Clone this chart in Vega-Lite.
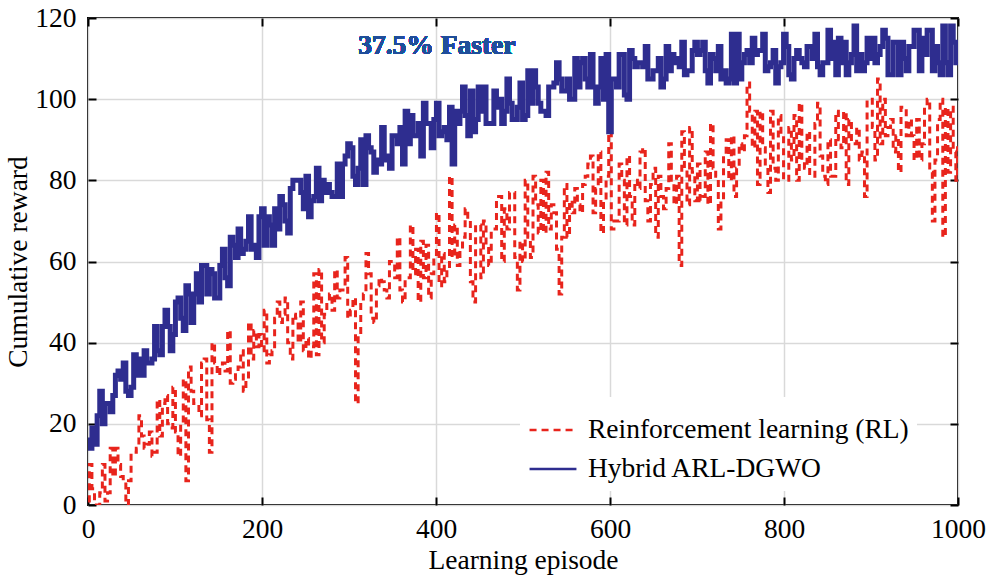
{
  "$schema": "https://vega.github.io/schema/vega-lite/v6.json",
  "width": 870,
  "height": 487,
  "autosize": {"type": "none"},
  "padding": {"left": 88, "top": 18, "right": 35, "bottom": 77},
  "background": "white",
  "config": {
    "view": {"stroke": "black", "strokeWidth": 2},
    "font": "Liberation Serif",
    "axis": {
      "labelFont": "Liberation Serif",
      "titleFont": "Liberation Serif",
      "labelFontSize": 27.5,
      "titleFontSize": 27.5,
      "titleFontWeight": "normal",
      "labelColor": "black",
      "titleColor": "black",
      "domain": false,
      "tickColor": "black",
      "tickWidth": 2,
      "tickSize": -8,
      "gridColor": "#d9d9d9",
      "gridWidth": 1.5,
      "labelFlush": false,
      "format": "d"
    },
    "legend": {
      "orient": "none",
      "legendX": 432,
      "legendY": 379,
      "fillColor": "white",
      "padding": 8,
      "symbolType": "stroke",
      "symbolSize": 2200,
      "symbolStrokeWidth": 2.5,
      "labelFont": "Liberation Serif",
      "labelFontSize": 27.5,
      "labelColor": "black",
      "labelOffset": 10,
      "rowPadding": -15,
      "labelLimit": 0
    }
  },
  "data": {
    "values": [
      {"e": 0, "rl": 1, "h": 16}, {"e": 3, "rl": 10, "h": 14}, {"e": 6, "rl": 4, "h": 19}, {"e": 9, "rl": 0, "h": 15},
      {"e": 12, "rl": 0, "h": 22}, {"e": 15, "rl": 3, "h": 28}, {"e": 18, "rl": 10, "h": 20}, {"e": 21, "rl": 1, "h": 25},
      {"e": 24, "rl": 3, "h": 25}, {"e": 27, "rl": 14, "h": 23},
      {"e": 30, "rl": 7, "h": 27}, {"e": 33, "rl": 14, "h": 32}, {"e": 36, "rl": 10, "h": 33}, {"e": 39, "rl": 7, "h": 31},
      {"e": 42, "rl": 6, "h": 35}, {"e": 45, "rl": 0, "h": 28}, {"e": 48, "rl": 6, "h": 27}, {"e": 51, "rl": 13, "h": 29},
      {"e": 54, "rl": 13, "h": 37}, {"e": 57, "rl": 14, "h": 32},
      {"e": 60, "rl": 22, "h": 36}, {"e": 63, "rl": 17, "h": 32}, {"e": 66, "rl": 14, "h": 38}, {"e": 69, "rl": 15, "h": 35},
      {"e": 72, "rl": 18, "h": 35}, {"e": 75, "rl": 12, "h": 36}, {"e": 78, "rl": 13, "h": 44}, {"e": 81, "rl": 26, "h": 38},
      {"e": 84, "rl": 17, "h": 37}, {"e": 87, "rl": 25, "h": 44},
      {"e": 90, "rl": 27, "h": 48}, {"e": 93, "rl": 20, "h": 44}, {"e": 96, "rl": 19, "h": 38}, {"e": 99, "rl": 29, "h": 42},
      {"e": 102, "rl": 18, "h": 50}, {"e": 105, "rl": 12, "h": 51}, {"e": 108, "rl": 20, "h": 46}, {"e": 111, "rl": 31, "h": 43},
      {"e": 114, "rl": 6, "h": 54}, {"e": 117, "rl": 34, "h": 52},
      {"e": 120, "rl": 28, "h": 45}, {"e": 123, "rl": 25, "h": 52}, {"e": 126, "rl": 25, "h": 57}, {"e": 129, "rl": 22, "h": 50},
      {"e": 132, "rl": 35, "h": 59}, {"e": 135, "rl": 36, "h": 59}, {"e": 138, "rl": 21, "h": 52}, {"e": 141, "rl": 13, "h": 58},
      {"e": 144, "rl": 40, "h": 57}, {"e": 147, "rl": 35, "h": 51},
      {"e": 150, "rl": 32, "h": 51}, {"e": 153, "rl": 34, "h": 59}, {"e": 156, "rl": 35, "h": 63}, {"e": 159, "rl": 33, "h": 56},
      {"e": 162, "rl": 43, "h": 54}, {"e": 165, "rl": 30, "h": 66}, {"e": 168, "rl": 31, "h": 64}, {"e": 171, "rl": 33, "h": 61},
      {"e": 174, "rl": 34, "h": 68}, {"e": 177, "rl": 38, "h": 62},
      {"e": 180, "rl": 28, "h": 63}, {"e": 183, "rl": 31, "h": 65}, {"e": 186, "rl": 45, "h": 71}, {"e": 189, "rl": 36, "h": 63},
      {"e": 192, "rl": 43, "h": 64}, {"e": 195, "rl": 39, "h": 61}, {"e": 198, "rl": 42, "h": 71}, {"e": 201, "rl": 38, "h": 73},
      {"e": 204, "rl": 48, "h": 64}, {"e": 207, "rl": 35, "h": 71},
      {"e": 210, "rl": 37, "h": 69}, {"e": 213, "rl": 38, "h": 64}, {"e": 216, "rl": 46, "h": 73}, {"e": 219, "rl": 50, "h": 68},
      {"e": 222, "rl": 45, "h": 76}, {"e": 225, "rl": 47, "h": 74}, {"e": 228, "rl": 51, "h": 70}, {"e": 231, "rl": 40, "h": 67},
      {"e": 234, "rl": 36, "h": 78}, {"e": 237, "rl": 47, "h": 80},
      {"e": 240, "rl": 46, "h": 80}, {"e": 243, "rl": 40, "h": 80}, {"e": 246, "rl": 50, "h": 77}, {"e": 249, "rl": 38, "h": 73},
      {"e": 252, "rl": 41, "h": 81}, {"e": 255, "rl": 36, "h": 71}, {"e": 258, "rl": 39, "h": 75}, {"e": 261, "rl": 57, "h": 76},
      {"e": 264, "rl": 37, "h": 83}, {"e": 267, "rl": 58, "h": 75},
      {"e": 270, "rl": 40, "h": 80}, {"e": 273, "rl": 47, "h": 77}, {"e": 276, "rl": 50, "h": 79}, {"e": 279, "rl": 52, "h": 77},
      {"e": 282, "rl": 48, "h": 76}, {"e": 285, "rl": 58, "h": 76}, {"e": 288, "rl": 51, "h": 84}, {"e": 291, "rl": 53, "h": 76},
      {"e": 294, "rl": 53, "h": 84}, {"e": 297, "rl": 61, "h": 86},
      {"e": 300, "rl": 46, "h": 89}, {"e": 303, "rl": 48, "h": 88}, {"e": 306, "rl": 51, "h": 81}, {"e": 309, "rl": 25, "h": 79},
      {"e": 312, "rl": 42, "h": 83}, {"e": 315, "rl": 50, "h": 90}, {"e": 318, "rl": 52, "h": 79}, {"e": 321, "rl": 62, "h": 91},
      {"e": 324, "rl": 57, "h": 88}, {"e": 327, "rl": 46, "h": 87},
      {"e": 330, "rl": 45, "h": 82}, {"e": 333, "rl": 54, "h": 85}, {"e": 336, "rl": 56, "h": 84}, {"e": 339, "rl": 55, "h": 93},
      {"e": 342, "rl": 53, "h": 85}, {"e": 345, "rl": 51, "h": 86}, {"e": 348, "rl": 60, "h": 83}, {"e": 351, "rl": 60, "h": 91},
      {"e": 354, "rl": 56, "h": 91}, {"e": 357, "rl": 66, "h": 89},
      {"e": 360, "rl": 53, "h": 93}, {"e": 363, "rl": 50, "h": 84}, {"e": 366, "rl": 56, "h": 97}, {"e": 369, "rl": 56, "h": 89},
      {"e": 372, "rl": 69, "h": 96}, {"e": 375, "rl": 57, "h": 91}, {"e": 378, "rl": 63, "h": 91}, {"e": 381, "rl": 50, "h": 94},
      {"e": 384, "rl": 65, "h": 86}, {"e": 387, "rl": 56, "h": 99},
      {"e": 390, "rl": 64, "h": 94}, {"e": 393, "rl": 51, "h": 94}, {"e": 396, "rl": 57, "h": 88}, {"e": 399, "rl": 61, "h": 95},
      {"e": 402, "rl": 72, "h": 99}, {"e": 405, "rl": 54, "h": 91}, {"e": 408, "rl": 62, "h": 92}, {"e": 411, "rl": 55, "h": 93},
      {"e": 414, "rl": 58, "h": 90}, {"e": 417, "rl": 81, "h": 98},
      {"e": 420, "rl": 61, "h": 84}, {"e": 423, "rl": 69, "h": 97}, {"e": 426, "rl": 59, "h": 94}, {"e": 429, "rl": 63, "h": 97},
      {"e": 432, "rl": 66, "h": 103}, {"e": 435, "rl": 73, "h": 96}, {"e": 438, "rl": 70, "h": 91}, {"e": 441, "rl": 55, "h": 102},
      {"e": 444, "rl": 50, "h": 92}, {"e": 447, "rl": 69, "h": 95},
      {"e": 450, "rl": 69, "h": 103}, {"e": 453, "rl": 56, "h": 97}, {"e": 456, "rl": 70, "h": 103}, {"e": 459, "rl": 64, "h": 94},
      {"e": 462, "rl": 59, "h": 94}, {"e": 465, "rl": 68, "h": 94}, {"e": 468, "rl": 68, "h": 102}, {"e": 471, "rl": 76, "h": 98},
      {"e": 474, "rl": 76, "h": 100}, {"e": 477, "rl": 60, "h": 94},
      {"e": 480, "rl": 73, "h": 97}, {"e": 483, "rl": 68, "h": 105}, {"e": 486, "rl": 77, "h": 99}, {"e": 489, "rl": 77, "h": 95},
      {"e": 492, "rl": 61, "h": 95}, {"e": 495, "rl": 53, "h": 98}, {"e": 498, "rl": 65, "h": 104}, {"e": 501, "rl": 60, "h": 95},
      {"e": 504, "rl": 80, "h": 96}, {"e": 507, "rl": 66, "h": 107},
      {"e": 510, "rl": 61, "h": 99}, {"e": 513, "rl": 81, "h": 107}, {"e": 516, "rl": 74, "h": 103}, {"e": 519, "rl": 67, "h": 99},
      {"e": 522, "rl": 80, "h": 97}, {"e": 525, "rl": 67, "h": 97}, {"e": 528, "rl": 82, "h": 96}, {"e": 531, "rl": 68, "h": 103},
      {"e": 534, "rl": 74, "h": 103}, {"e": 537, "rl": 72, "h": 104},
      {"e": 540, "rl": 63, "h": 109}, {"e": 543, "rl": 52, "h": 105}, {"e": 546, "rl": 66, "h": 102}, {"e": 549, "rl": 79, "h": 102},
      {"e": 552, "rl": 66, "h": 105}, {"e": 555, "rl": 75, "h": 100}, {"e": 558, "rl": 72, "h": 100}, {"e": 561, "rl": 78, "h": 110},
      {"e": 564, "rl": 74, "h": 103}, {"e": 567, "rl": 72, "h": 109},
      {"e": 570, "rl": 79, "h": 110}, {"e": 573, "rl": 81, "h": 105}, {"e": 576, "rl": 84, "h": 103}, {"e": 579, "rl": 86, "h": 111},
      {"e": 582, "rl": 72, "h": 103}, {"e": 585, "rl": 78, "h": 99}, {"e": 588, "rl": 87, "h": 103}, {"e": 591, "rl": 67, "h": 110},
      {"e": 594, "rl": 75, "h": 100}, {"e": 597, "rl": 81, "h": 111},
      {"e": 600, "rl": 95, "h": 92}, {"e": 603, "rl": 68, "h": 105}, {"e": 606, "rl": 70, "h": 105}, {"e": 609, "rl": 70, "h": 103},
      {"e": 612, "rl": 84, "h": 111}, {"e": 615, "rl": 80, "h": 111}, {"e": 618, "rl": 69, "h": 101}, {"e": 621, "rl": 86, "h": 100},
      {"e": 624, "rl": 76, "h": 112}, {"e": 627, "rl": 69, "h": 110},
      {"e": 630, "rl": 80, "h": 108}, {"e": 633, "rl": 78, "h": 109}, {"e": 636, "rl": 87, "h": 109}, {"e": 639, "rl": 88, "h": 108},
      {"e": 642, "rl": 75, "h": 113}, {"e": 645, "rl": 70, "h": 105}, {"e": 648, "rl": 79, "h": 105}, {"e": 651, "rl": 83, "h": 107},
      {"e": 654, "rl": 66, "h": 107}, {"e": 657, "rl": 81, "h": 110},
      {"e": 660, "rl": 76, "h": 103}, {"e": 663, "rl": 73, "h": 105}, {"e": 666, "rl": 78, "h": 113}, {"e": 669, "rl": 89, "h": 107},
      {"e": 672, "rl": 80, "h": 111}, {"e": 675, "rl": 74, "h": 109}, {"e": 678, "rl": 81, "h": 110}, {"e": 681, "rl": 59, "h": 108},
      {"e": 684, "rl": 92, "h": 114}, {"e": 687, "rl": 83, "h": 106},
      {"e": 690, "rl": 74, "h": 107}, {"e": 693, "rl": 93, "h": 107}, {"e": 696, "rl": 82, "h": 112}, {"e": 699, "rl": 75, "h": 114},
      {"e": 702, "rl": 84, "h": 111}, {"e": 705, "rl": 75, "h": 112}, {"e": 708, "rl": 76, "h": 114}, {"e": 711, "rl": 87, "h": 107},
      {"e": 714, "rl": 74, "h": 104}, {"e": 717, "rl": 94, "h": 111},
      {"e": 720, "rl": 83, "h": 110}, {"e": 723, "rl": 81, "h": 107}, {"e": 726, "rl": 68, "h": 113}, {"e": 729, "rl": 75, "h": 105},
      {"e": 732, "rl": 86, "h": 107}, {"e": 735, "rl": 90, "h": 104}, {"e": 738, "rl": 80, "h": 105}, {"e": 741, "rl": 91, "h": 116},
      {"e": 744, "rl": 76, "h": 104}, {"e": 747, "rl": 83, "h": 116},
      {"e": 750, "rl": 89, "h": 105}, {"e": 753, "rl": 87, "h": 109}, {"e": 756, "rl": 91, "h": 111}, {"e": 759, "rl": 104, "h": 112},
      {"e": 762, "rl": 97, "h": 109}, {"e": 765, "rl": 88, "h": 115}, {"e": 768, "rl": 97, "h": 111}, {"e": 771, "rl": 79, "h": 112},
      {"e": 774, "rl": 97, "h": 112}, {"e": 777, "rl": 88, "h": 116},
      {"e": 780, "rl": 84, "h": 107}, {"e": 783, "rl": 77, "h": 108}, {"e": 786, "rl": 97, "h": 109}, {"e": 789, "rl": 83, "h": 112},
      {"e": 792, "rl": 80, "h": 104}, {"e": 795, "rl": 96, "h": 108}, {"e": 798, "rl": 91, "h": 109}, {"e": 801, "rl": 80, "h": 116},
      {"e": 804, "rl": 80, "h": 113}, {"e": 807, "rl": 93, "h": 106},
      {"e": 810, "rl": 85, "h": 105}, {"e": 813, "rl": 96, "h": 110}, {"e": 816, "rl": 80, "h": 112}, {"e": 819, "rl": 99, "h": 110},
      {"e": 822, "rl": 85, "h": 109}, {"e": 825, "rl": 83, "h": 108}, {"e": 828, "rl": 92, "h": 113}, {"e": 831, "rl": 81, "h": 113},
      {"e": 834, "rl": 81, "h": 110}, {"e": 837, "rl": 94, "h": 116},
      {"e": 840, "rl": 99, "h": 108}, {"e": 843, "rl": 86, "h": 106}, {"e": 846, "rl": 81, "h": 109}, {"e": 849, "rl": 79, "h": 109},
      {"e": 852, "rl": 90, "h": 117}, {"e": 855, "rl": 81, "h": 110}, {"e": 858, "rl": 81, "h": 114}, {"e": 861, "rl": 97, "h": 106},
      {"e": 864, "rl": 90, "h": 115}, {"e": 867, "rl": 88, "h": 109},
      {"e": 870, "rl": 97, "h": 114}, {"e": 873, "rl": 79, "h": 106}, {"e": 876, "rl": 95, "h": 109}, {"e": 879, "rl": 89, "h": 111},
      {"e": 882, "rl": 89, "h": 118}, {"e": 885, "rl": 93, "h": 107}, {"e": 888, "rl": 85, "h": 111}, {"e": 891, "rl": 87, "h": 107},
      {"e": 894, "rl": 76, "h": 109}, {"e": 897, "rl": 100, "h": 115},
      {"e": 900, "rl": 100, "h": 110}, {"e": 903, "rl": 93, "h": 115}, {"e": 906, "rl": 85, "h": 109}, {"e": 909, "rl": 105, "h": 111},
      {"e": 912, "rl": 89, "h": 113}, {"e": 915, "rl": 100, "h": 117}, {"e": 918, "rl": 91, "h": 115}, {"e": 921, "rl": 93, "h": 106},
      {"e": 924, "rl": 95, "h": 106}, {"e": 927, "rl": 87, "h": 114},
      {"e": 930, "rl": 91, "h": 114}, {"e": 933, "rl": 82, "h": 106}, {"e": 936, "rl": 98, "h": 114}, {"e": 939, "rl": 98, "h": 110},
      {"e": 942, "rl": 91, "h": 107}, {"e": 945, "rl": 95, "h": 113}, {"e": 948, "rl": 91, "h": 113}, {"e": 951, "rl": 85, "h": 117},
      {"e": 954, "rl": 95, "h": 117}, {"e": 957, "rl": 85, "h": 107},
      {"e": 960, "rl": 89, "h": 115}, {"e": 963, "rl": 98, "h": 111}, {"e": 966, "rl": 100, "h": 117}, {"e": 969, "rl": 82, "h": 117},
      {"e": 972, "rl": 70, "h": 107}, {"e": 975, "rl": 85, "h": 113}, {"e": 978, "rl": 95, "h": 109}, {"e": 981, "rl": 100, "h": 106},
      {"e": 984, "rl": 66, "h": 118}, {"e": 987, "rl": 98, "h": 109},
      {"e": 990, "rl": 82, "h": 106}, {"e": 993, "rl": 98, "h": 118}, {"e": 996, "rl": 87, "h": 114}, {"e": 999, "rl": 80, "h": 109},
      {"e": 1000, "rl": 88, "h": 112}
    ]
  },
  "layer": [
    {
      "mark": {"type": "line", "strokeWidth": 3, "interpolate": "step", "clip": true},
      "encoding": {
        "x": {
          "field": "e",
          "type": "quantitative",
          "scale": {"domain": [0, 1000], "nice": false},
          "axis": {"orient": "bottom", "values": [0, 200, 400, 600, 800, 1000], "title": "Learning episode", "labelPadding": 18, "titlePadding": 4}
        },
        "y": {
          "field": "rl",
          "type": "quantitative",
          "scale": {"domain": [0, 120], "nice": false},
          "axis": {"orient": "left", "values": [0, 20, 40, 60, 80, 100, 120], "title": "Cumulative reward", "labelPadding": 20, "titlePadding": 2}
        },
        "color": {
          "datum": "Reinforcement learning (RL)",
          "type": "nominal",
          "scale": {"domain": ["Reinforcement learning (RL)", "Hybrid ARL-DGWO"], "range": ["#e8241c", "#2e2d8f"]},
          "legend": {"title": null}
        },
        "strokeDash": {
          "datum": "Reinforcement learning (RL)",
          "type": "nominal",
          "scale": {"domain": ["Reinforcement learning (RL)", "Hybrid ARL-DGWO"], "range": [[7, 5], [1, 0]]},
          "legend": {"title": null}
        }
      }
    },
    {
      "mark": {"type": "line", "strokeWidth": 5, "interpolate": "step", "clip": true},
      "encoding": {
        "x": {
          "field": "e",
          "type": "quantitative",
          "axis": {"orient": "top", "values": [0, 200, 400, 600, 800, 1000], "labels": false, "grid": false, "title": null}
        },
        "y": {
          "field": "h",
          "type": "quantitative",
          "axis": {"orient": "right", "values": [0, 20, 40, 60, 80, 100, 120], "labels": false, "grid": false, "title": null}
        },
        "color": {"datum": "Hybrid ARL-DGWO", "type": "nominal"},
        "strokeDash": {"datum": "Hybrid ARL-DGWO", "type": "nominal"}
      }
    },
    {
      "mark": {"type": "text", "text": "37.5% Faster", "font": "Liberation Serif", "fontSize": 27.5, "fontWeight": "bold", "color": "#1f4e9a"},
      "encoding": {
        "x": {"datum": 401, "type": "quantitative", "axis": null},
        "y": {"datum": 113, "type": "quantitative", "axis": null}
      }
    }
  ],
  "resolve": {"axis": {"x": "independent", "y": "independent"}}
}
